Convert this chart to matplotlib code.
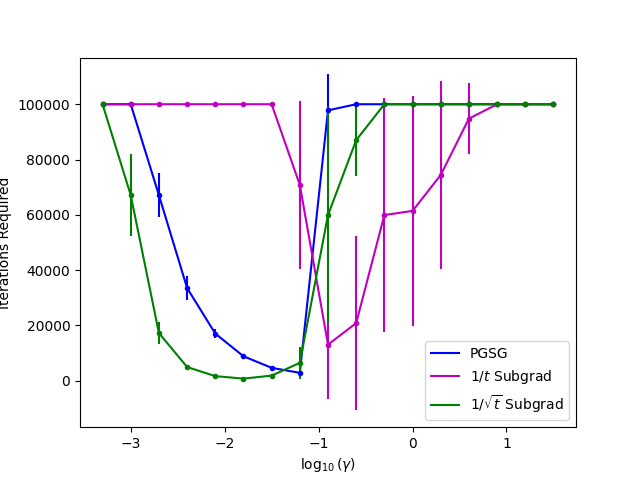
import matplotlib
matplotlib.use("Agg")
import matplotlib.pyplot as plt

log_gamma = [-3.3, -3.0, -2.7, -2.4, -2.1, -1.8, -1.5, -1.2, -0.9, -0.6,
             -0.3, 0.0, 0.3, 0.6, 0.9, 1.2, 1.5]

pgsg_mean = [100000, 100000, 67100, 33500, 17000, 8800, 4600, 2800, 97800, 100000,
             100000, 100000, 100000, 100000, 100000, 100000, 100000]
pgsg_err = [0, 0, 7900, 4200, 1700, 300, 300, 300, 13000, 0,
            0, 0, 0, 0, 0, 0, 0]

inv_t_mean = [100000, 100000, 100000, 100000, 100000, 100000, 100000, 70800, 13000, 20800,
              59900, 61400, 74400, 94800, 100000, 100000, 100000]
inv_t_err = [0, 0, 0, 0, 0, 0, 0, 30300, 19500, 31600,
             42300, 41500, 33900, 12900, 0, 0, 0]

inv_sqrt_mean = [100000, 67100, 17200, 4900, 1600, 700, 1800, 6400, 59900, 87000,
                 100000, 100000, 100000, 100000, 100000, 100000, 100000]
inv_sqrt_err = [0, 14900, 3900, 700, 300, 200, 300, 5800, 39100, 13100,
                0, 0, 0, 0, 0, 0, 0]

labels = ['PGSG', r'$1/t$ Subgrad', r'$1/\sqrt{t}$ Subgrad']
colors = ['b', 'm', 'g']

fig, ax = plt.subplots(figsize=(6.4, 4.8), dpi=100)
series = [(pgsg_mean, pgsg_err), (inv_t_mean, inv_t_err), (inv_sqrt_mean, inv_sqrt_err)]
for (m, e), lab, c in zip(series, labels, colors):
    ax.plot(log_gamma, m, color=c, label=lab)
    ax.errorbar(log_gamma, m, yerr=e, fmt='.', color=c)

ax.set_xlabel(r'$\log_{10}(\gamma)$')
ax.set_ylabel('Iterations Required')
ax.legend(loc='lower right')
fig.savefig('out.png')
